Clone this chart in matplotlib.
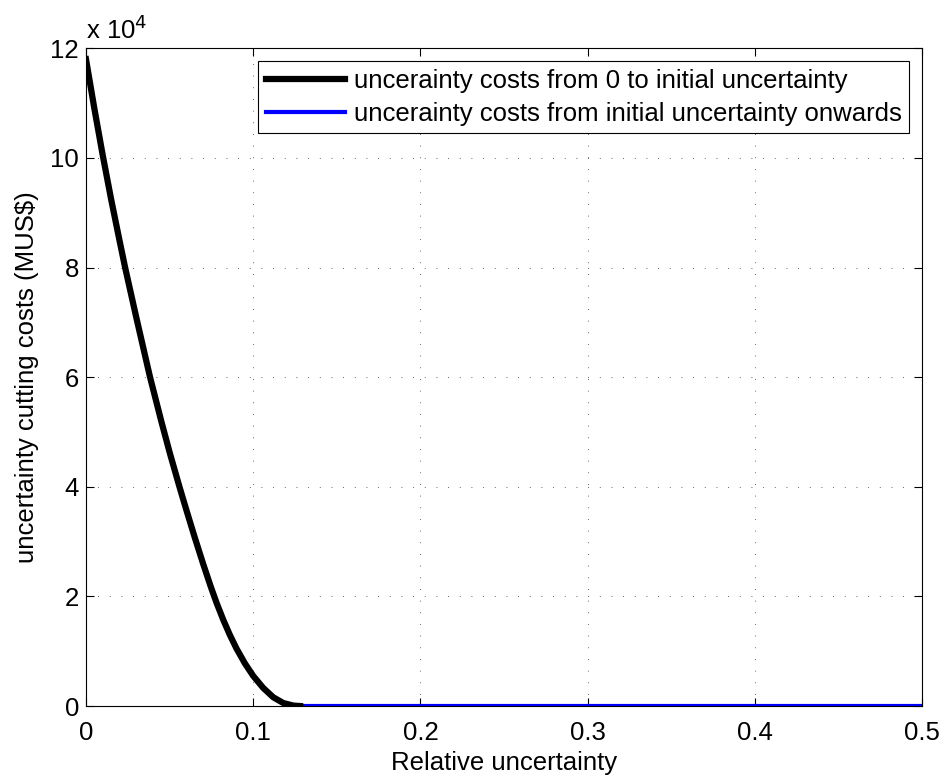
import matplotlib
matplotlib.use('Agg')
import matplotlib.pyplot as plt
from matplotlib.ticker import FuncFormatter

# relative uncertainty vs cost (MUS$)
x_low = [0.000, 0.005, 0.010, 0.015, 0.020, 0.0234, 0.030, 0.0383, 0.045, 0.050, 0.0559,
         0.060, 0.065, 0.070, 0.0746, 0.078, 0.082, 0.086, 0.090, 0.095, 0.100, 0.106,
         0.112, 0.118, 0.124, 0.128]
y_low = [118000, 109000, 100500, 92500, 85000, 80000, 71000, 60000, 52000, 46300, 40000,
         35800, 30800, 26000, 21800, 18900, 15800, 13000, 10500, 7800, 5500, 3300,
         1600, 550, 80, 0]
x_high = [0.128, 0.5]
y_high = [0, 0]

labels = ['uncerainty costs from 0 to initial uncertainty',
          'uncerainty costs from initial uncertainty onwards']

fs = 18.5
plt.rcParams['font.family'] = ['Liberation Sans', 'DejaVu Sans']
plt.rcParams['font.size'] = fs

fig = plt.figure(figsize=(9.46, 7.78), dpi=100)
ax = fig.add_axes([0.0909, 0.0925, 0.8837, 0.8455])

ax.plot(x_low, y_low, color='black', linewidth=4.5, label=labels[0], solid_joinstyle='round')
ax.plot(x_high, y_high, color='blue', linewidth=3, label=labels[1], zorder=1.9)

ax.set_xlim(0, 0.5)
ax.set_ylim(0, 120000)
ax.set_xticks([0, 0.1, 0.2, 0.3, 0.4, 0.5])
ax.set_yticks(range(0, 120001, 20000))
ax.xaxis.set_major_formatter(FuncFormatter(lambda v, p: '0' if v == 0 else ('%g' % v)))
ax.yaxis.set_major_formatter(FuncFormatter(lambda v, p: '%d' % round(v / 1e4)))
ax.tick_params(direction='in', length=6, width=0.8, top=True, right=True, labelsize=fs)
ax.tick_params(axis='x', pad=11)
ax.tick_params(axis='y', pad=5)
ax.grid(True, linestyle=(0, (1, 13)), color='black', linewidth=0.6, alpha=0.8)
for s in ax.spines.values():
    s.set_linewidth(0.8)

ax.text(0, 1.006, r'x 10$^4$', transform=ax.transAxes, fontsize=fs, va='bottom', ha='left')

ax.set_xlabel('Relative uncertainty', fontsize=fs, labelpad=4)
ax.set_ylabel('uncertainty cutting costs (MUS$)', fontsize=fs, labelpad=8)

leg = ax.legend(loc='upper right', fontsize=fs, handlelength=3.05, fancybox=False,
                framealpha=1, edgecolor='black', borderaxespad=0.5,
                borderpad=0.3, labelspacing=0.35, handletextpad=0.35)
leg.get_frame().set_linewidth(0.8)

fig.savefig('out.png', dpi=100)
